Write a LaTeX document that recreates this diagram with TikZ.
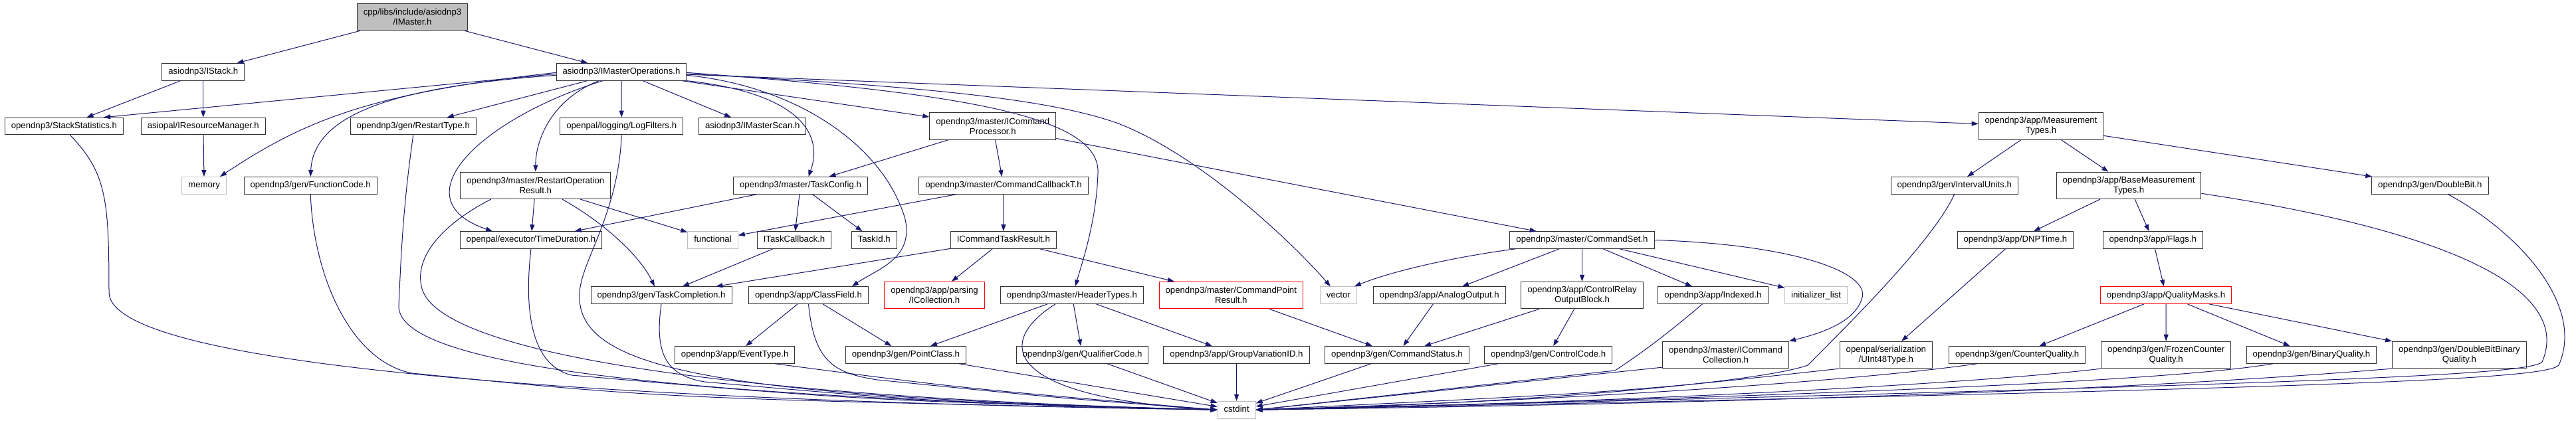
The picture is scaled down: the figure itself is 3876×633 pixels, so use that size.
\documentclass[tikz,border=0pt]{standalone}
\usepackage{fontspec}
\setmainfont{Liberation Sans}
\usetikzlibrary{arrows.meta}
\definecolor{edge}{HTML}{191970}
\definecolor{boxline}{HTML}{333333}
\definecolor{sysline}{HTML}{BFBFBF}
\definecolor{rootfill}{HTML}{BFBFBF}
\definecolor{missing}{HTML}{FF0000}

\begin{document}
\begin{tikzpicture}[x=1pt,y=-1pt,font=\fontsize{13.2}{15}\selectfont,
  >={Triangle[length=10pt,width=7pt]},
  file/.style={draw=boxline,fill=white,line width=1pt,inner xsep=9.5pt,
    inner ysep=0pt,minimum height=25.6pt,text height=9.6pt,text depth=2.8pt},
  twoline/.style={draw=boxline,fill=white,line width=1pt,inner xsep=9.5pt,
    inner ysep=0pt,minimum height=40.5pt,align=center},
  sysfile/.style={file,draw=sysline},
  redfile/.style={file,draw=missing},
  redtwo/.style={twoline,draw=missing},
  dep/.style={draw=edge,line width=1pt,->}]
  \fill[white] (0,0) rectangle (3876,633);
  \useasboundingbox (0,0) rectangle (3876,633);
  % rank 0 and 1
  \node[twoline,fill=rootfill] (root) at (620.5,25.7)
    {cpp/libs/include/asiodnp3\\/IMaster.h};
  \node[file] (istack) at (305.8,108.3) {asiodnp3/IStack.h};
  \node[file] (imops) at (935,108.3) {asiodnp3/IMasterOperations.h};
  % rank 2
  \node[file] (stackstats) at (96.4,190) {opendnp3/StackStatistics.h};
  \node[file] (resmgr) at (305.8,190) {asiopal/IResourceManager.h};
  \node[file] (restarttype) at (621.8,190) {opendnp3/gen/RestartType.h};
  \node[file] (logfilters) at (935.2,190) {openpal/logging/LogFilters.h};
  \node[file] (imscan) at (1132.2,190) {asiodnp3/IMasterScan.h};
  \node[twoline] (cmdproc) at (1493.8,190)
    {opendnp3/master/ICommand\\Processor.h};
  \node[twoline] (meastypes) at (3071,190)
    {opendnp3/app/Measurement\\Types.h};
  % rank 3
  \node[sysfile] (memory) at (307.2,279.3) {memory};
  \node[file] (funccode) at (467.2,279.3) {opendnp3/gen/FunctionCode.h};
  \node[twoline] (restartres) at (805.8,279.3)
    {opendnp3/master/RestartOperation\\Result.h};
  \node[file] (taskconfig) at (1204.5,279.3) {opendnp3/master/TaskConfig.h};
  \node[file] (cmdcallback) at (1510,279.3) {opendnp3/master/CommandCallbackT.h};
  \node[file] (intervalunits) at (2940.7,279.3) {opendnp3/gen/IntervalUnits.h};
  \node[twoline] (basemeas) at (3203,279.3)
    {opendnp3/app/BaseMeasurement\\Types.h};
  \node[file] (doublebit) at (3656.3,279.3) {opendnp3/gen/DoubleBit.h};
  % rank 4
  \node[file] (timedur) at (799,361.5) {openpal/executor/TimeDuration.h};
  \node[sysfile] (functional) at (1072.5,361.5) {functional};
  \node[file] (taskcb) at (1195,361.5) {ITaskCallback.h};
  \node[file] (taskid) at (1315.2,361.5) {TaskId.h};
  \node[file] (cmdtaskres) at (1509.8,361.5) {ICommandTaskResult.h};
  \node[file] (cmdset) at (2380.5,361.5) {opendnp3/master/CommandSet.h};
  \node[file] (dnptime) at (3032.4,361.5) {opendnp3/app/DNPTime.h};
  \node[file] (flags) at (3239.3,361.5) {opendnp3/app/Flags.h};
  % rank 5
  \node[file] (taskcomp) at (995,444.6) {opendnp3/gen/TaskCompletion.h};
  \node[file] (classfield) at (1216.5,444.6) {opendnp3/app/ClassField.h};
  \node[redtwo] (icollection) at (1406,444.6)
    {opendnp3/app/parsing\\/ICollection.h};
  \node[file] (headertypes) at (1612.9,444.6) {opendnp3/master/HeaderTypes.h};
  \node[redtwo] (cmdpointres) at (1852.3,444.6)
    {opendnp3/master/CommandPoint\\Result.h};
  \node[sysfile] (vector) at (2013.9,444.6) {vector};
  \node[file] (analogout) at (2165.8,444.6) {opendnp3/app/AnalogOutput.h};
  \node[twoline] (crob) at (2380.5,444.6)
    {opendnp3/app/ControlRelay\\OutputBlock.h};
  \node[file] (indexed) at (2577.5,444.6) {opendnp3/app/Indexed.h};
  \node[sysfile] (initlist) at (2732.6,444.6) {initializer\_list};
  \node[redfile] (qualmasks) at (3259,444.6) {opendnp3/app/QualityMasks.h};
  % rank 6
  \node[file] (eventtype) at (1105.7,534.4) {opendnp3/app/EventType.h};
  \node[file] (pointclass) at (1363,534.4) {opendnp3/gen/PointClass.h};
  \node[file] (qualcode) at (1628.5,534.4) {opendnp3/gen/QualifierCode.h};
  \node[file] (groupvar) at (1860.5,534.4) {opendnp3/app/GroupVariationID.h};
  \node[file] (cmdstatus) at (2101.9,534.4) {opendnp3/gen/CommandStatus.h};
  \node[file] (ctrlcode) at (2329.7,534.4) {opendnp3/gen/ControlCode.h};
  \node[twoline] (cmdcoll) at (2596.5,534.4)
    {opendnp3/master/ICommand\\Collection.h};
  \node[twoline] (uint48) at (2837.8,534.4)
    {openpal/serialization\\/UInt48Type.h};
  \node[file] (counterq) at (3035.2,534.4) {opendnp3/gen/CounterQuality.h};
  \node[twoline] (frozenq) at (3259.2,534.4)
    {opendnp3/gen/FrozenCounter\\Quality.h};
  \node[file] (binaryq) at (3478,534.4) {opendnp3/gen/BinaryQuality.h};
  \node[twoline] (dbbq) at (3700.4,534.4)
    {opendnp3/gen/DoubleBitBinary\\Quality.h};
  % rank 7
  \node[sysfile] (cstdint) at (1860.6,617.2) {cstdint};

  % top of the graph
  \draw[dep] (root) -- (istack);
  \draw[dep] (root) -- (imops);
  \draw[dep] (istack) -- (stackstats);
  \draw[dep] (istack) -- (resmgr);
  \draw[dep] (resmgr) -- (memory);
  \draw[dep] ([yshift=-3pt]imops.west) -- ([xshift=-30pt]stackstats.north east);
  \draw[dep] ([yshift=-1pt]imops.west) .. controls (560,140) and (460,180)
    .. ([xshift=-10pt]memory.north east);
  \draw[dep] ([yshift=-5pt]imops.west) .. controls (600,130) and (472,170)
    .. (funccode.north);
  \draw[dep] (imops) -- (restarttype);
  \draw[dep] (imops) -- (logfilters);
  \draw[dep] (imops) -- (imscan);
  \draw[dep] ([xshift=-34pt]imops.south) .. controls (830,150) and (806,210)
    .. (restartres.north);
  \draw[dep] ([xshift=-28pt]imops.south) .. controls (720,180) and (600,300)
    .. ([xshift=-58pt]timedur.north);
  \draw[dep] (imops.south east) .. controls (1200,140) and (1240,200)
    .. ([xshift=12pt]taskconfig.north);
  \draw[dep] ([yshift=-5pt]imops.east) .. controls (1200,130) and (1330,220)
    .. (1362,330) .. controls (1375,390) and (1320,405)
    .. ([xshift=-25pt]classfield.north east);
  \draw[dep] (imops) -- (cmdproc);
  \draw[dep] (imops) -- (meastypes);
  \draw[dep] ([yshift=-3pt]imops.east) .. controls (1400,130) and (1580,150)
    .. (1680,185) .. controls (1800,230) and (1940,360)
    .. ([xshift=-12pt]vector.north);
  \draw[dep] ([yshift=-1pt]imops.east) .. controls (1450,140) and (1655,175)
    .. (1652,260) .. controls (1650,330) and (1630,390)
    .. ([xshift=5pt]headertypes.north);

  % middle of the graph
  \draw[dep] (restartres) -- (timedur);
  \draw[dep] ([xshift=40pt]restartres.south) .. controls (900,330) and (960,380)
    .. ([xshift=-10pt]taskcomp.north);
  \draw[dep] (restartres) -- (functional);
  \draw[dep] (taskconfig) -- (timedur);
  \draw[dep] (taskconfig) -- (taskcb);
  \draw[dep] (taskconfig) -- (taskid);
  \draw[dep] (cmdproc) -- (taskconfig);
  \draw[dep] (cmdproc) -- (cmdcallback);
  \draw[dep] (cmdproc) -- (cmdset);
  \draw[dep] (cmdcallback) -- (functional);
  \draw[dep] (cmdcallback) -- (cmdtaskres);
  \draw[dep] (taskcb) -- (taskcomp);
  \draw[dep] (cmdtaskres) -- (taskcomp);
  \draw[dep] (cmdtaskres) -- (icollection);
  \draw[dep] (cmdtaskres) -- (cmdpointres);
  \draw[dep] (classfield) -- (eventtype);
  \draw[dep] (classfield) -- (pointclass);
  \draw[dep] (headertypes) -- (pointclass);
  \draw[dep] (headertypes) -- (qualcode);
  \draw[dep] (headertypes) -- (groupvar);
  \draw[dep] (cmdpointres) -- (cmdstatus);
  \draw[dep] ([xshift=-100pt]cmdset.south) .. controls (2180,388) and (2090,410)
    .. ([xshift=-4pt]vector.north east);
  \draw[dep] (cmdset) -- (analogout);
  \draw[dep] (cmdset) -- (crob);
  \draw[dep] (cmdset) -- (indexed);
  \draw[dep] (cmdset) -- (initlist);
  \draw[dep] (cmdset.east) .. controls (2700,368) and (2812,410)
    .. (2802,448) .. controls (2792,485) and (2740,502) .. (cmdcoll.north east);
  \draw[dep] (analogout) -- (cmdstatus);
  \draw[dep] (crob) -- (cmdstatus);
  \draw[dep] (crob) -- (ctrlcode);
  \draw[dep] (meastypes) -- (intervalunits);
  \draw[dep] (meastypes) -- (basemeas);
  \draw[dep] (meastypes) -- (doublebit);
  \draw[dep] (basemeas) -- (dnptime);
  \draw[dep] (basemeas) -- (flags);
  \draw[dep] (dnptime) -- (uint48);
  \draw[dep] (flags) -- (qualmasks);
  \draw[dep] (qualmasks) -- (counterq);
  \draw[dep] (qualmasks) -- (frozenq);
  \draw[dep] (qualmasks) -- (binaryq);
  \draw[dep] (qualmasks) -- (dbbq);

  % into cstdint from the left
  \draw[dep] ([xshift=9pt]stackstats.south) .. controls (160,260) and (164,300)
    .. (164,440) .. controls (164,560) and (1000,605) .. (cstdint.west);
  \draw[dep] (funccode.south) .. controls (472,420) and (530,545)
    .. (620,562) .. controls (1000,600) .. (cstdint.west);
  \draw[dep] (restarttype.south) .. controls (605,320) and (603,400)
    .. (600,460) .. controls (596,560) and (1100,600) .. (cstdint.west);
  \draw[dep] ([xshift=-67pt]restartres.south) .. controls (680,330) and (620,380)
    .. (635,435) .. controls (660,520) and (1000,595) .. (cstdint.west);
  \draw[dep] (timedur.south) .. controls (788,470) and (800,550)
    .. (860,565) .. controls (1300,603) .. (cstdint.west);
  \draw[dep] (logfilters.south) .. controls (930,330) and (868,400)
    .. (872,450) .. controls (876,560) and (1100,598) .. (cstdint.west);
  \draw[dep] (taskcomp.south) .. controls (985,530) and (1000,565)
    .. (1060,575) .. controls (1400,605) .. (cstdint.west);
  \draw[dep] (classfield.south) .. controls (1225,545) and (1255,562)
    .. (1320,572) .. controls (1600,600) .. (cstdint.west);
  \draw[dep] ([xshift=60pt]eventtype.south) .. controls (1450,585) .. (cstdint.west);
  \draw[dep] (pointclass) -- (cstdint);
  \draw[dep] (qualcode) -- (cstdint);
  \draw[dep] ([xshift=-25pt]headertypes.south) .. controls (1490,520) and (1520,600)
    .. (cstdint.west);
  \draw[dep] (groupvar) -- (cstdint);

  % into cstdint from the right
  \draw[dep] (cmdstatus) -- (cstdint);
  \draw[dep] (ctrlcode) -- (cstdint);
  \draw[dep] ([xshift=-16pt]indexed.south) .. controls (2500,510) and (2465,535)
    .. (2430,558) -- (cstdint.east);
  \draw[dep] ([yshift=2pt]cmdcoll.south west) -- (cstdint.east);
  \draw[dep] (intervalunits.south) .. controls (2910,360) and (2790,480)
    .. (2720,550) .. controls (2650,575) and (2300,608) .. (cstdint.east);
  \draw[dep] (uint48.south west) .. controls (2450,590) .. (cstdint.east);
  \draw[dep] ([xshift=-60pt]counterq.south) .. controls (2850,566) and (2500,598)
    .. (cstdint.east);
  \draw[dep] (frozenq.south west) .. controls (3000,575) and (2500,605)
    .. (cstdint.east);
  \draw[dep] ([xshift=-58pt]binaryq.south) .. controls (3320,565) and (3000,590)
    .. (cstdint.east);
  \draw[dep] (dbbq.south west) .. controls (3300,580) and (2800,605)
    .. (cstdint.east);
  \draw[dep] ([yshift=-12pt]basemeas.east) .. controls (3700,350) and (3870,440)
    .. (3825,545) .. controls (3805,565) and (3500,578) .. (cstdint.east);
  \draw[dep] ([xshift=27pt]doublebit.south) .. controls (3790,350) and (3890,460)
    .. (3850,550) .. controls (3830,572) and (3500,585) .. (cstdint.east);
\end{tikzpicture}
\end{document}
